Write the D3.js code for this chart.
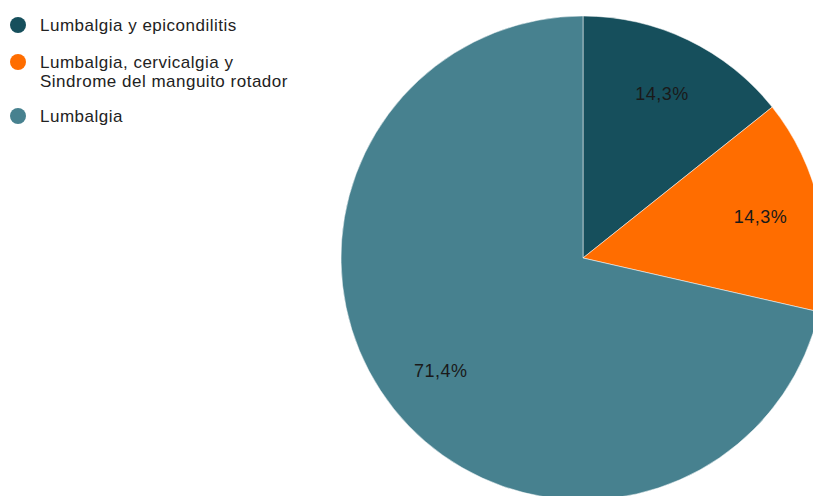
<!DOCTYPE html>
<html>
<head>
<meta charset="utf-8">
<script src="https://cdn.jsdelivr.net/npm/d3@7"></script>
<style>
  html, body { margin: 0; padding: 0; background: #fff; overflow: hidden; }
  svg { display: block; font-family: "Liberation Sans", Arial, sans-serif; }
</style>
</head>
<body>
<div id="chart"></div>
<script>
// Chart data
const categories = [
  "Lumbalgia y epicondilitis",
  "Lumbalgia, cervicalgia y\nSindrome del manguito rotador",
  "Lumbalgia"
];
const values = [1, 1, 5];
const colors = ["#164f5c", "#ff6d00", "#47818f"];

const width = 813;
const height = 496;
const radius = 242;
const cx = 583;
const cy = 258;

const svg = d3.select("#chart")
  .append("svg")
    .attr("width", width)
    .attr("height", height);

const pie = d3.pie().sort(null).value(d => d);
const arcs = pie(values);
const total = d3.sum(values);

const arc = d3.arc().innerRadius(0).outerRadius(radius);
const labelArc = d3.arc().innerRadius(182).outerRadius(182);

const g = svg.append("g")
  .attr("transform", `translate(${cx},${cy})`);

g.selectAll("path")
  .data(arcs)
  .enter()
  .append("path")
    .attr("d", arc)
    .attr("fill", (d, i) => colors[i])
    .attr("stroke", "#fff")
    .attr("stroke-opacity", 0.5)
    .attr("stroke-width", 1);

const fmt = v => (100 * v / total).toFixed(1).replace(".", ",") + "%";

g.selectAll("text.pct")
  .data(arcs)
  .enter()
  .append("text")
    .attr("class", "pct")
    .attr("transform", d => `translate(${labelArc.centroid(d)})`)
    .attr("text-anchor", "middle")
    .attr("dy", "0.33em")
    .attr("font-size", 18)
    .attr("letter-spacing", 0.5)
    .attr("fill", "#1a1a1a")
    .text(d => fmt(d.value));

// Legend
const legendY = [25, 62, 116];
const legend = svg.append("g");

const items = legend.selectAll("g")
  .data(categories)
  .enter()
  .append("g")
    .attr("transform", (d, i) => `translate(0,${legendY[i]})`);

items.append("circle")
  .attr("cx", 18)
  .attr("cy", 0)
  .attr("r", 8)
  .attr("fill", (d, i) => colors[i]);

items.append("text")
  .attr("x", 40)
  .attr("y", 0)
  .attr("font-size", 17)
  .attr("letter-spacing", 0.5)
  .attr("fill", "#222")
  .selectAll("tspan")
  .data(d => d.split("\n"))
  .enter()
  .append("tspan")
    .attr("x", 40)
    .attr("dy", (d, i) => i ? 19 : 6)
    .text(d => d);
</script>
</body>
</html>
